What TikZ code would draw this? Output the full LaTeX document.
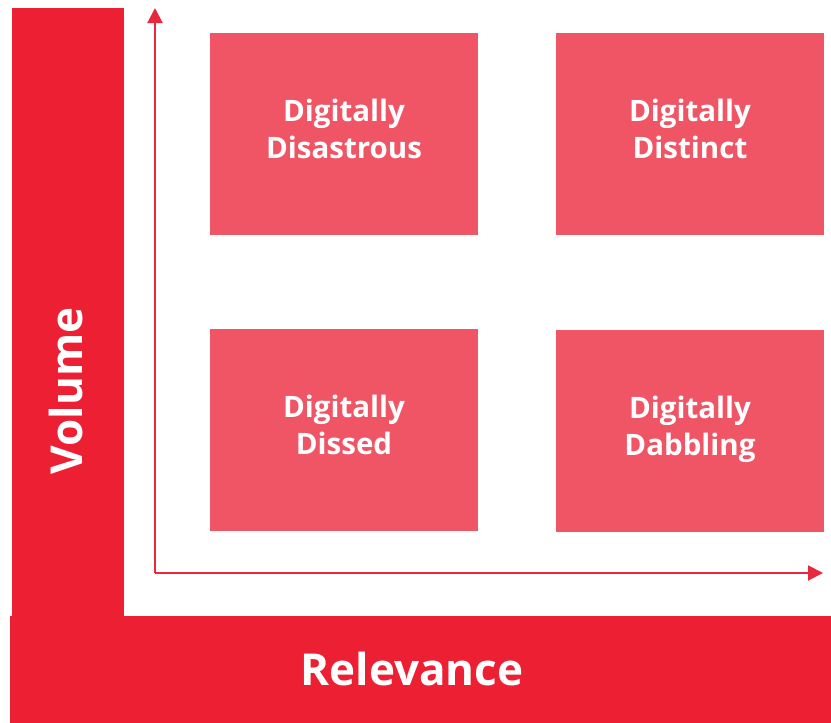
\documentclass[tikz,border=0pt]{standalone}
\usepackage{fontspec}
\setmainfont{Open Sans}
\usetikzlibrary{arrows.meta}
\definecolor{barred}{HTML}{ED1F33}
\definecolor{boxred}{HTML}{F05565}
\definecolor{axisred}{HTML}{E8283C}
\begin{document}
\begin{tikzpicture}[x=1pt, y=-1pt,
    quad/.style={fill=boxred, text=white, font=\fontsize{29.5}{37}\selectfont\bfseries,
      align=center, minimum width=268pt, minimum height=202pt, inner sep=0pt, text depth=10pt},
    axis/.style={draw=axisred, line width=2pt, -{Triangle[length=15pt, width=15pt]}}]
    \useasboundingbox (0, 0) rectangle (831, 723);
    \fill[barred] (12, 8) rectangle (124, 616);
    \fill[barred] (10, 616) rectangle (831, 723);
    \node[text=white, font=\fontsize{44}{50}\selectfont\bfseries, rotate=90] (vol) at (66, 391) {Volume};
    \node[text=white, font=\fontsize{44}{50}\selectfont\bfseries] (rel) at (412, 669) {Relevance};
    \node[quad] (q1) at (344, 134) {Digitally\\Disastrous};
    \node[quad] (q2) at (690, 134) {Digitally\\Distinct};
    \node[quad] (q3) at (344, 430) {Digitally\\Dissed};
    \node[quad] (q4) at (690, 431) {Digitally\\Dabbling};
    \coordinate (o) at (155, 573);
    \coordinate (ytop) at (155, 8);
    \coordinate (xend) at (823, 573);
    \draw[axis] (o) -- (ytop);
    \draw[axis] (o) -- (xend);
\end{tikzpicture}
\end{document}
